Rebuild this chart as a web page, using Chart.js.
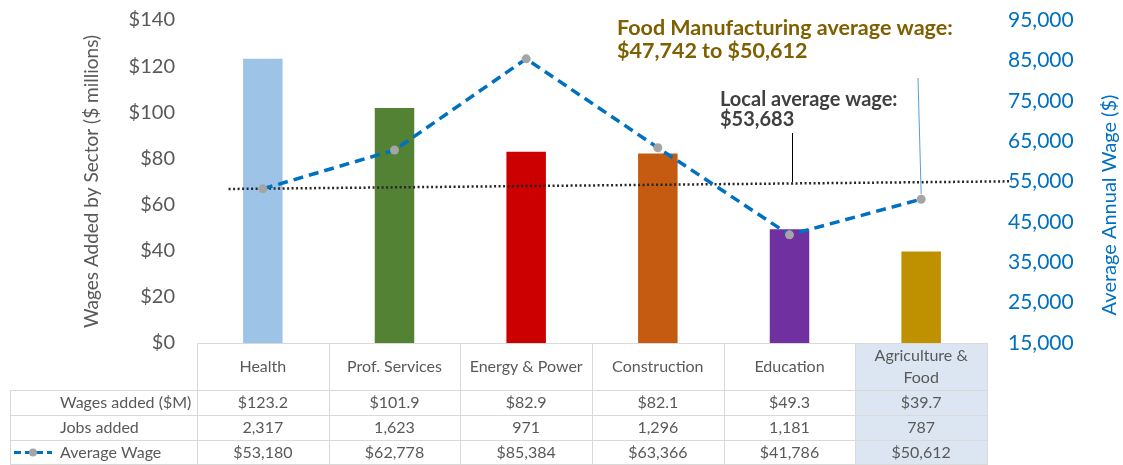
<!DOCTYPE html>
<html>
<head>
<meta charset="utf-8">
<script src="https://cdn.jsdelivr.net/npm/chart.js@4.4.1/dist/chart.umd.min.js"></script>
<style>
  html, body { margin: 0; padding: 0; background: #fff; }
  #wrap { width: 1123px; height: 465px; }
</style>
</head>
<body>
<div id="wrap"><canvas id="myChart" width="1123" height="465"></canvas></div>
<script>
const categories = ['Health', 'Prof. Services', 'Energy & Power', 'Construction', 'Education', 'Agriculture & Food'];
const headerLines = [['Health'], ['Prof. Services'], ['Energy & Power'], ['Construction'], ['Education'], ['Agriculture &', 'Food']];
const wagesAdded = [123.2, 101.9, 82.9, 82.1, 49.3, 39.7];
const jobsAdded = [2317, 1623, 971, 1296, 1181, 787];
const avgWage = [53180, 62778, 85384, 63366, 41786, 50612];
const barColors = ['#9dc3e6', '#548235', '#cc0000', '#c55a11', '#7030a0', '#bf9000'];
// dotted "local average wage" line, in category units (0..6) on a hidden axis
const localAvgLine = [{ x: 0.24, y: 53150 }, { x: 6.19, y: 55050 }];
const leftTicks = { min: 0, max: 140, step: 20 };
const rightTicks = { min: 15000, max: 95000, step: 10000 };

const FONT = 'Lato, "Open Sans", sans-serif';
const GRAY = '#595959';
const BLUE = '#0070c0';

function fmt(n) { return n.toLocaleString('en-US'); }

// keep the plot area top at 20px regardless of tick padding
function fixPad(s, w) {
  s.width = w;
  s.paddingTop = 20;
  s.paddingBottom = 0;
}

const tablePlugin = {
  id: 'dataTable',
  afterDraw(chart) {
    const ctx = chart.ctx;
    const x = chart.scales.x;
    const area = chart.chartArea;
    const colW = x.getPixelForValue(1) - x.getPixelForValue(0);
    const left = area.left;
    const top = area.bottom;
    const headBottom = top + 47;
    const rowH = 25;
    const labelLeft = 10;
    const rows = [
      { label: 'Wages added ($M)', vals: wagesAdded.map(v => '$' + v.toFixed(1)) },
      { label: 'Jobs added', vals: jobsAdded.map(fmt) },
      { label: 'Average Wage', vals: avgWage.map(v => '$' + fmt(v)) }
    ];
    const bottom = headBottom + rowH * rows.length;

    ctx.save();
    // shaded last column
    ctx.fillStyle = '#dce6f2';
    ctx.fillRect(left + colW * 5, top, colW, bottom - top);

    ctx.strokeStyle = '#d9d9d9';
    ctx.lineWidth = 1;
    ctx.beginPath();
    ctx.moveTo(left, top + 0.5); ctx.lineTo(left + colW * 6, top + 0.5);
    for (let i = 0; i <= 6; i++) {
      const px = Math.round(left + colW * i) + 0.5;
      ctx.moveTo(px, top); ctx.lineTo(px, bottom);
    }
    for (let r = 0; r <= rows.length; r++) {
      const py = Math.min(Math.round(headBottom + rowH * r) + 0.5, 464.5);
      ctx.moveTo(labelLeft, py); ctx.lineTo(left + colW * 6, py);
    }
    ctx.moveTo(labelLeft + 0.5, headBottom); ctx.lineTo(labelLeft + 0.5, bottom);
    ctx.stroke();

    ctx.fillStyle = GRAY;
    ctx.font = '16px ' + FONT;
    ctx.textAlign = 'center';
    ctx.textBaseline = 'middle';
    headerLines.forEach((lines, i) => {
      const cx = x.getPixelForValue(i);
      const cy = (top + headBottom) / 2;
      lines.forEach((t, k) => {
        ctx.fillText(t, cx, cy + (k - (lines.length - 1) / 2) * 22);
      });
    });
    rows.forEach((row, r) => {
      const cy = headBottom + rowH * r + rowH / 2;
      ctx.textAlign = 'left';
      ctx.fillText(row.label, 60, cy);
      ctx.textAlign = 'center';
      row.vals.forEach((v, i) => ctx.fillText(v, x.getPixelForValue(i), cy));
    });

    // legend key for the line series
    const ky = headBottom + rowH * 2 + rowH / 2;
    ctx.strokeStyle = BLUE;
    ctx.lineWidth = 3;
    ctx.setLineDash([7, 4]);
    ctx.beginPath(); ctx.moveTo(14, ky); ctx.lineTo(52, ky); ctx.stroke();
    ctx.setLineDash([]);
    ctx.fillStyle = '#a5a5a5';
    ctx.beginPath(); ctx.arc(33, ky, 4, 0, Math.PI * 2); ctx.fill();
    ctx.restore();
  }
};

const notesPlugin = {
  id: 'notes',
  afterDatasetsDraw(chart) {
    const ctx = chart.ctx;
    const x = chart.scales.x;
    const y1 = chart.scales.y1;
    ctx.save();
    ctx.textAlign = 'left';
    ctx.textBaseline = 'alphabetic';
    ctx.font = 'bold 21.5px ' + FONT;
    ctx.fillStyle = '#7f6000';
    ctx.fillText('Food Manufacturing average wage:', 617, 35);
    ctx.fillText('$47,742 to $50,612', 617, 58);
    ctx.fillStyle = '#404040';
    ctx.font = 'bold 20px ' + FONT;
    ctx.fillText('Local average wage:', 720, 106);
    ctx.fillText('$53,683', 720, 126);

    // callout lines
    ctx.lineWidth = 1;
    ctx.strokeStyle = '#000';
    ctx.beginPath(); ctx.moveTo(792.5, 133); ctx.lineTo(792.5, 182); ctx.stroke();
    ctx.strokeStyle = '#5b9bd5';
    ctx.beginPath();
    ctx.moveTo(918, 78);
    ctx.lineTo(x.getPixelForValue(5), y1.getPixelForValue(avgWage[5]) - 5);
    ctx.stroke();

    // right axis title, reading bottom to top
    ctx.translate(1110, 205);
    ctx.rotate(-Math.PI / 2);
    ctx.textAlign = 'center';
    ctx.textBaseline = 'middle';
    ctx.fillStyle = BLUE;
    ctx.font = '20px ' + FONT;
    ctx.fillText('Average Annual Wage ($)', 0, 0);
    ctx.restore();
  }
};

const ctx = document.getElementById('myChart').getContext('2d');
new Chart(ctx, {
  data: {
    labels: categories,
    datasets: [
      {
        type: 'line',
        label: 'Average Wage',
        data: avgWage,
        xAxisID: 'x',
        yAxisID: 'y1',
        borderColor: BLUE,
        borderWidth: 3.5,
        borderDash: [10, 6],
        pointRadius: 4.5,
        pointBackgroundColor: '#a5a5a5',
        pointBorderWidth: 0,
        fill: false,
        tension: 0,
        order: 1
      },
      {
        type: 'line',
        label: 'Local average wage',
        data: localAvgLine,
        xAxisID: 'xTrend',
        yAxisID: 'y1',
        borderColor: '#262626',
        borderWidth: 2.5,
        borderDash: [2, 2.5],
        pointRadius: 0,
        fill: false,
        clip: false,
        order: 2
      },
      {
        type: 'bar',
        label: 'Wages added ($M)',
        data: wagesAdded,
        xAxisID: 'x',
        yAxisID: 'y',
        backgroundColor: barColors,
        grouped: false,
        categoryPercentage: 1,
        barPercentage: 0.3,
        order: 3
      }
    ]
  },
  options: {
    responsive: false,
    animation: false,
    layout: { padding: { top: 0, bottom: 122, left: 0, right: 0 } },
    plugins: {
      legend: { display: false },
      tooltip: { enabled: false }
    },
    scales: {
      x: { type: 'category', display: false, offset: true },
      xTrend: { type: 'linear', display: false, min: 0, max: 6 },
      y: {
        position: 'left',
        min: leftTicks.min,
        max: leftTicks.max,
        grid: { display: false, drawTicks: false },
        border: { display: false },
        ticks: {
          stepSize: leftTicks.step,
          color: GRAY,
          padding: 22,
          font: { family: FONT, size: 20 },
          callback: v => '$' + v
        },
        title: {
          display: true,
          text: 'Wages Added by Sector ($ millions)',
          color: GRAY,
          padding: { top: 80, bottom: 0 },
          font: { family: FONT, size: 19 }
        },
        afterFit: s => fixPad(s, 197)
      },
      y1: {
        position: 'right',
        min: rightTicks.min,
        max: rightTicks.max,
        grid: { display: false, drawTicks: false },
        border: { display: false },
        ticks: {
          stepSize: rightTicks.step,
          color: BLUE,
          padding: 21,
          font: { family: FONT, size: 21 },
          callback: v => fmt(v)
        },
        afterFit: s => fixPad(s, 136)
      }
    }
  },
  plugins: [tablePlugin, notesPlugin]
});
</script>
</body>
</html>
